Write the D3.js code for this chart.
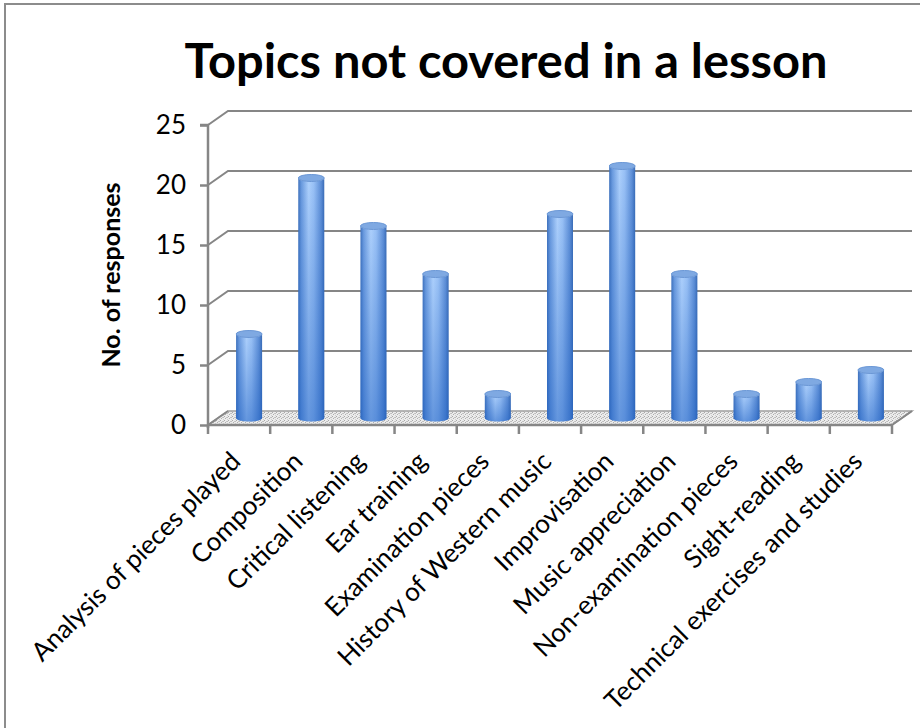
<!DOCTYPE html>
<html>
<head>
<meta charset="utf-8">
<script src="https://cdn.jsdelivr.net/npm/d3@7"></script>
<style>
  body { margin: 0; background: #fff; }
  svg { display: block; }
</style>
</head>
<body>
<div id="chart"></div>
<script>
var categories = ["Analysis of pieces played", "Composition", "Critical listening", "Ear training",
    "Examination pieces", "History of Western music", "Improvisation", "Music appreciation",
    "Non-examination pieces", "Sight-reading", "Technical exercises and studies"];
var responses = [7, 20, 16, 12, 2, 17, 21, 12, 2, 3, 4];
var yTicks = [0, 5, 10, 15, 20, 25];

var W = 920, H = 728;
var font = "Lato, 'Open Sans', sans-serif";
var axisColor = "#868686";

// 3d depth offset of the back wall
var dx = 20, dy = -14;

var svg = d3.select("#chart").append("svg")
    .attr("width", W)
    .attr("height", H);

var defs = svg.append("defs");

// horizontal shading of the cylinders
var gH = defs.append("linearGradient").attr("id", "cylH")
    .attr("x1", 0).attr("x2", 1).attr("y1", 0).attr("y2", 0);
[[0, "#3f72bd"], [0.12, "#6a9ade"], [0.4, "#add0fc"], [0.6, "#98c0f5"], [0.88, "#5d8ed6"], [1, "#3a6cb6"]]
    .forEach(function(s) { gH.append("stop").attr("offset", s[0]).attr("stop-color", s[1]); });

// darker towards the bottom
var gV = defs.append("linearGradient").attr("id", "cylV")
    .attr("x1", 0).attr("x2", 0).attr("y1", 0).attr("y2", 1);
gV.append("stop").attr("offset", 0).attr("stop-color", "#1a5cc0").attr("stop-opacity", 0);
gV.append("stop").attr("offset", 1).attr("stop-color", "#1a5cc0").attr("stop-opacity", 0.5);

// dithered floor
var pat = defs.append("pattern").attr("id", "floorPat")
    .attr("width", 4).attr("height", 4).attr("patternUnits", "userSpaceOnUse");
pat.append("rect").attr("width", 4).attr("height", 4).attr("fill", "#ececec");
[[0, 0, "#a8a8a8"], [2, 1, "#c4c4c4"], [1, 2, "#b0b0b0"], [3, 3, "#d0d0d0"], [3, 1, "#bdbdbd"]]
    .forEach(function(p) {
        pat.append("rect").attr("x", p[0]).attr("y", p[1]).attr("width", 1).attr("height", 1).attr("fill", p[2]);
    });

// chart border
svg.append("rect")
    .attr("x", 5).attr("y", 4)
    .attr("width", 940).attr("height", 760)
    .attr("fill", "none")
    .attr("stroke", "#8c8c8c")
    .attr("stroke-width", 2);

// Title
svg.append("text")
    .attr("x", 506)
    .attr("y", 78)
    .attr("text-anchor", "middle")
    .attr("textLength", 643)
    .attr("lengthAdjust", "spacingAndGlyphs")
    .style("font-family", font)
    .style("font-weight", "bold")
    .style("font-size", "47px")
    .text("Topics not covered in a lesson");

var x = d3.scaleBand()
    .domain(categories)
    .range([208, 892]);

var y = d3.scaleLinear()
    .domain([0, 25])
    .range([425, 125]);

// floor
svg.append("path")
    .attr("d", d3.line()([[x.range()[0], y(0)], [x.range()[1], y(0)],
        [x.range()[1] + dx, y(0) + dy], [x.range()[0] + dx, y(0) + dy]]) + "Z")
    .attr("fill", "url(#floorPat)")
    .attr("stroke", "#a0a0a0")
    .attr("stroke-width", 1.5);

// back wall gridlines with their side wall diagonal
var grid = svg.append("g");
yTicks.forEach(function(t) {
    if (t === 0) return;
    grid.append("path")
        .attr("d", d3.line()([[x.range()[0], y(t)], [x.range()[0] + dx, y(t) + dy], [x.range()[1] + dx, y(t) + dy]]))
        .attr("fill", "none")
        .attr("stroke", axisColor)
        .attr("stroke-width", 2);
});
// the 0 line on the side wall
grid.append("line")
    .attr("x1", x.range()[0]).attr("y1", y(0))
    .attr("x2", x.range()[0] + dx).attr("y2", y(0) + dy)
    .attr("stroke", axisColor).attr("stroke-width", 2);

// y axis
var yAxis = svg.append("g")
    .attr("transform", "translate(" + x.range()[0] + ",0)")
    .call(d3.axisLeft(y).tickValues(yTicks).tickSize(8).tickPadding(14));
yAxis.select(".domain").attr("stroke", axisColor).attr("stroke-width", 2.5)
    .attr("d", "M-8," + y(25) + "H0V" + (y(0) + 3));
yAxis.selectAll(".tick line").attr("stroke", axisColor).attr("stroke-width", 2.5);
yAxis.selectAll("text")
    .style("font-family", font)
    .style("font-size", "26px")
    .attr("fill", "#000");

svg.append("text")
    .attr("transform", "translate(120,275) rotate(-90)")
    .attr("text-anchor", "middle")
    .style("font-family", font)
    .style("font-weight", "bold")
    .style("font-size", "25px")
    .text("No. of responses");

// category axis ticks at band edges
var edges = categories.map(function(c) { return x(c); }).concat([x.range()[1]]);
var xg = svg.append("g");
xg.append("line")
    .attr("x1", x.range()[0]).attr("x2", x.range()[1])
    .attr("y1", y(0)).attr("y2", y(0))
    .attr("stroke", axisColor).attr("stroke-width", 2.5);
xg.selectAll(".xt").data(edges).enter().append("line")
    .attr("x1", function(d) { return d; }).attr("x2", function(d) { return d; })
    .attr("y1", y(0)).attr("y2", y(0) + 9)
    .attr("stroke", axisColor).attr("stroke-width", 2.5);
// right floor edge
xg.append("line")
    .attr("x1", x.range()[1]).attr("y1", y(0))
    .attr("x2", x.range()[1] + dx).attr("y2", y(0) + dy)
    .attr("stroke", axisColor).attr("stroke-width", 2);

xg.selectAll(".xl").data(categories).enter().append("text")
    .attr("transform", function(d) {
        return "translate(" + (x(d) + x.bandwidth() / 2 + 3) + "," + (y(0) + 38) + ") rotate(-45)";
    })
    .attr("text-anchor", "end")
    .style("font-family", font)
    .style("font-size", "26px")
    .text(function(d) { return d; });

// cylinders, placed at mid depth
var r = 13, ry = 3.5;
var bars = svg.append("g").selectAll("g").data(categories).enter().append("g");
function cylPath(d, i) {
    var cx = x(d) + x.bandwidth() / 2 + dx / 2;
    var yb = y(0) + dy / 2, yt = y(responses[i]) + dy / 2;
    return "M" + (cx - r) + "," + yt +
        "V" + yb +
        "A" + r + "," + ry + " 0 0 0 " + (cx + r) + "," + yb +
        "V" + yt +
        "A" + r + "," + ry + " 0 0 1 " + (cx - r) + "," + yt + "Z";
}
bars.append("path").attr("d", cylPath).attr("fill", "url(#cylH)");
bars.append("path").attr("d", cylPath).attr("fill", "url(#cylV)");
bars.append("ellipse")
    .attr("cx", function(d) { return x(d) + x.bandwidth() / 2 + dx / 2; })
    .attr("cy", function(d, i) { return y(responses[i]) + dy / 2; })
    .attr("rx", r).attr("ry", ry)
    .attr("fill", "#7fa9e2")
    .attr("stroke", "#6a97d6")
    .attr("stroke-width", 1);
</script>
</body>
</html>
